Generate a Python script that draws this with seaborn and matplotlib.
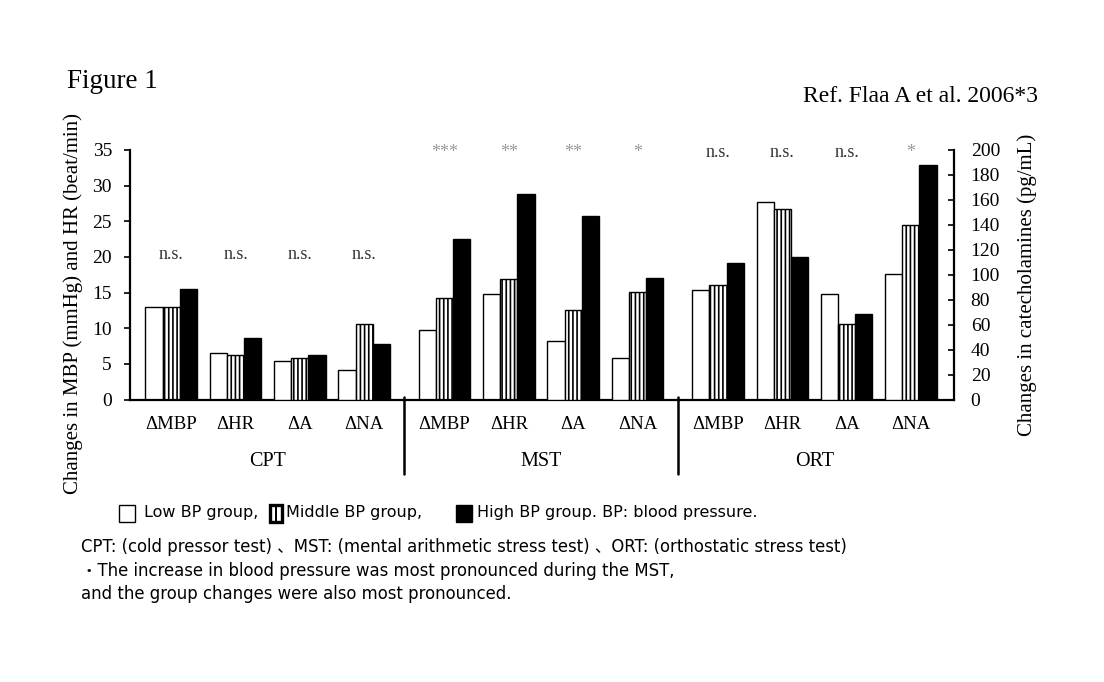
import matplotlib
matplotlib.use("Agg")
import matplotlib.pyplot as plt
import matplotlib.transforms as mtransforms
from matplotlib.patches import Rectangle
import pandas as pd
import seaborn as sns

# ---------------- data ----------------
tests = ["CPT", "MST", "ORT"]
params = ["ΔMBP", "ΔHR", "ΔA", "ΔNA"]
groups = ["Low BP group", "Middle BP group", "High BP group"]
# ΔMBP (mmHg), ΔHR (beat/min) -> left axis ; ΔA, ΔNA (pg/mL) -> right axis
cpt_low = [13.0, 6.5, 30.8, 23.5]
cpt_mid = [13.0, 6.2, 33.4, 60.2]
cpt_high = [15.5, 8.6, 35.3, 44.4]
mst_low = [9.7, 14.8, 46.8, 33.4]
mst_mid = [14.3, 16.9, 72.0, 85.8]
mst_high = [22.5, 28.8, 147.0, 97.0]
ort_low = [15.4, 27.7, 84.7, 100.8]
ort_mid = [16.0, 26.7, 60.3, 140.2]
ort_high = [19.1, 20.0, 68.9, 188.2]
significance = [["n.s.", "n.s.", "n.s.", "n.s."],
                ["***", "**", "**", "*"],
                ["n.s.", "n.s.", "n.s.", "*"]]
left_ticks = [0, 5, 10, 15, 20, 25, 30, 35]
right_ticks = [0, 20, 40, 60, 80, 100, 120, 140, 160, 180, 200]

table = {
    "CPT": [cpt_low, cpt_mid, cpt_high],
    "MST": [mst_low, mst_mid, mst_high],
    "ORT": [ort_low, ort_mid, ort_high],
}

# ---------------- layout helpers ----------------
GAP = 0.25  # extra space between test blocks
rows = []
positions = []
for ti, t in enumerate(tests):
    for pi, p in enumerate(params):
        pos = ti * (len(params) + GAP) + pi
        positions.append(pos)
        for gi, g in enumerate(groups):
            rows.append({"test": t, "param": p, "group": g,
                         "value": table[t][gi][pi], "pos": pos,
                         "kind": "bp" if pi < 2 else "cat"})
df = pd.DataFrame(rows)
df_bp = df[df["kind"] == "bp"]
df_cat = df[df["kind"] == "cat"]

sns.set_theme(style="white")
plt.rcParams["font.family"] = ["Liberation Serif", "DejaVu Serif"]
plt.rcParams["hatch.linewidth"] = 1.2
for key in ("text.color", "axes.labelcolor", "xtick.color", "ytick.color"):
    plt.rcParams[key] = "black"

W, H = 1104, 682
fig = plt.figure(figsize=(W / 100, H / 100), dpi=100)
ax = fig.add_axes([130 / W, 1 - 399.5 / H, (954 - 130) / W, (399.5 - 150) / H])
ax2 = ax.twinx()

palette = ["white", "white", "black"]
common = dict(x="pos", y="value", hue="group", hue_order=groups, native_scale=True,
              palette=palette, edgecolor="black", linewidth=1.0, errorbar=None,
              legend=False, width=0.8, gap=0)
sns.barplot(data=df_bp, ax=ax, **common)
sns.barplot(data=df_cat, ax=ax2, **common)

for a in (ax, ax2):
    for bar in a.containers[1]:
        bar.set_hatch("||||")
        bar.set_edgecolor("black")

# axes limits and ticks
ax.set_xlim(-0.64, positions[-1] + 0.67)
ax.set_ylim(0, 35)
ax2.set_ylim(0, 200)
ax.set_xticks(positions)
ax.set_xticklabels(params * len(tests), fontsize=13.5)
ax.tick_params(axis="x", length=0, pad=12)
ax.set_yticks(left_ticks)
ax.tick_params(axis="y", direction="out", length=4, width=1.2, labelsize=14, pad=9, left=True)
ax2.set_yticks(right_ticks)
ax2.tick_params(axis="y", direction="in", length=4, width=1.2, labelsize=14, pad=12, right=True)
ax.set_xlabel("")
ax.set_ylabel("Changes in MBP (mmHg) and HR (beat/min)", fontsize=15)
ax.yaxis.set_label_coords((83 - 130) / 824, (399.5 - 303) / 249.5)
ax2.set_ylabel("Changes in catecholamines (pg/mL)", fontsize=15)
ax2.yaxis.set_label_coords((1017 - 130) / 824, (399.5 - 285) / 249.5)

for s in ("top", "right"):
    ax.spines[s].set_visible(False)
for s in ("top", "left", "bottom"):
    ax2.spines[s].set_visible(False)
ax.spines["left"].set_linewidth(1.6)
ax.spines["bottom"].set_linewidth(1.6)
ax2.spines["right"].set_linewidth(1.6)
for a in (ax, ax2):
    for s in a.spines.values():
        s.set_color("black")

# separators and test labels
trans = mtransforms.blended_transform_factory(ax.transData, ax.transAxes)
block = len(params) + GAP
for ti in range(1, len(tests)):
    xs = ti * block - (1 + GAP) / 2
    ax.plot([xs, xs], [0.01, -0.297], transform=trans, color="black", lw=1.8, clip_on=False)
for ti, t in enumerate(tests):
    ax.text(ti * block + (len(params) - 1) / 2, -0.248, t, transform=trans,
            ha="center", va="center", fontsize=14.5)

# significance marks
for ti in range(len(tests)):
    for pi in range(len(params)):
        s = significance[ti][pi]
        y = 20.3 if ti == 0 else 34.6
        col = "#9a9a9a" if "*" in s else "#333333"
        ax.text(ti * block + pi, y, s, ha="center", va="center", fontsize=13, color=col)

# titles
fig.text(67 / W, 1 - 81 / H, "Figure 1", fontsize=19.5, ha="left", va="center")
fig.text(1038 / W, 1 - 96 / H, "Ref. Flaa A et al. 2006*3", fontsize=17, ha="right", va="center")

# legend line (manual, sans font)
sans = ["DejaVu Sans", "Noto Sans CJK JP"]
FS_LEG = 11.5
FS_CAP = 11.9
ly = 1 - 513 / H
bh = 17 / H
# low group key
fig.add_artist(Rectangle((119 / W, ly - bh / 2), 16 / W, bh, transform=fig.transFigure,
                         facecolor="white", edgecolor="black", lw=1.0))
fig.text(144 / W, ly, "Low BP group,", family=sans, fontsize=FS_LEG, ha="left", va="center")
# middle group key (thick striped box)
fig.add_artist(Rectangle((270 / W, ly - bh / 2), 12 / W, bh, transform=fig.transFigure,
                         facecolor="white", edgecolor="black", lw=2.4))
fig.add_artist(Rectangle((274.8 / W, ly - bh / 2), 2.4 / W, bh, transform=fig.transFigure,
                         facecolor="black", edgecolor="none"))
fig.text(286 / W, ly, "Middle BP group,", family=sans, fontsize=FS_LEG, ha="left", va="center")
# high group key
fig.add_artist(Rectangle((456 / W, ly - bh / 2), 16 / W, bh, transform=fig.transFigure,
                         facecolor="black", edgecolor="black", lw=1.0))
fig.text(477 / W, ly, "High BP group. BP: blood pressure.", family=sans, fontsize=FS_LEG,
         ha="left", va="center")

captions = ["CPT: (cold pressor test) 、MST: (mental arithmetic stress test) 、ORT: (orthostatic stress test)",
            "・The increase in blood pressure was most pronounced during the MST,",
            "and the group changes were also most pronounced."]
for yy, line in zip([547, 571, 594], captions):
    fig.text(81 / W, 1 - yy / H, line, family=sans, fontsize=FS_CAP, ha="left", va="center")

fig.savefig("out.png", dpi=100, facecolor="white")
